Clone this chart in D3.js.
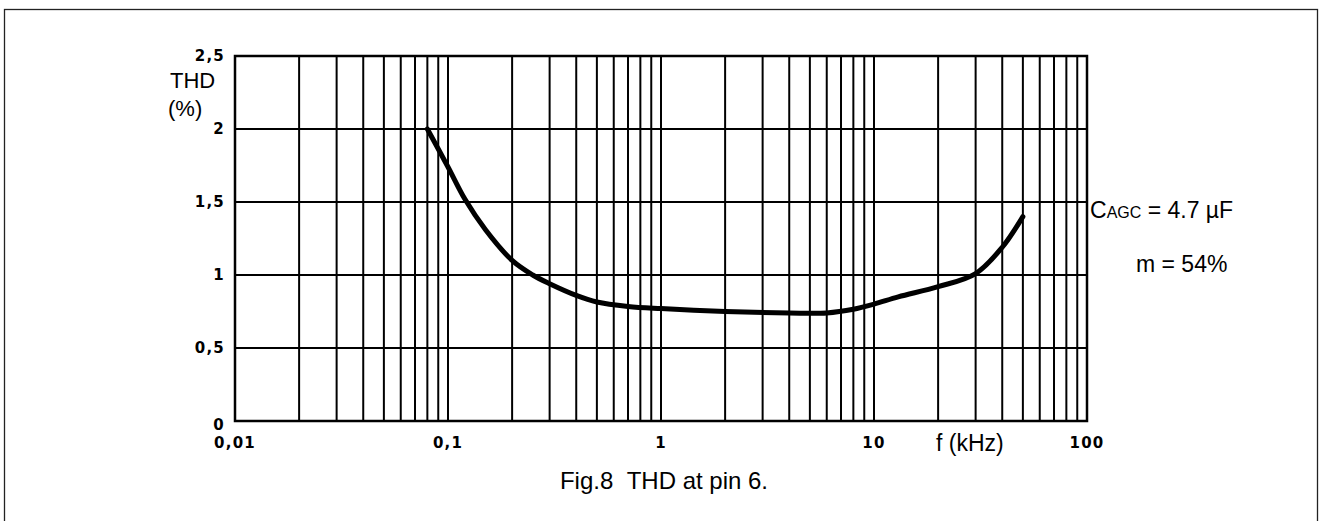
<!DOCTYPE html>
<html>
<head>
<meta charset="utf-8">
<script src="https://cdn.jsdelivr.net/npm/d3@7"></script>
<style>
  html, body { margin: 0; padding: 0; background: #fff; }
  svg { display: block; }
  .tick-label { font-family: "DejaVu Sans", sans-serif; font-weight: bold; font-size: 15px; letter-spacing: 1.2px; fill: #000; }
  .txt { font-family: "Liberation Sans", Arial, sans-serif; fill: #000; white-space: pre; }
</style>
</head>
<body>
<svg id="chart" width="1326" height="521"></svg>
<script>
// curve (f in kHz, THD in %)
const FREQ = [0.08, 0.1, 0.12, 0.15, 0.2, 0.25, 0.3, 0.4, 0.5, 0.7, 1, 2, 4, 6, 8, 10, 13, 20, 30, 40, 50];
const THD = [2.0, 1.74, 1.52, 1.31, 1.1, 1.0, 0.94, 0.86, 0.815, 0.785, 0.77, 0.75, 0.74, 0.74, 0.765, 0.8, 0.85, 0.92, 1.01, 1.19, 1.4];

const X_TICKS = [0.01, 0.1, 1, 10, 100];
const X_TICK_LABELS = ['0,01', '0,1', '1', '10', '100'];
const Y_TICKS = [0, 0.5, 1, 1.5, 2, 2.5];
const Y_TICK_LABELS = ['0', '0,5', '1', '1,5', '2', '2,5'];

const PLOT = { left: 235, right: 1087, top: 56, bottom: 421 };

const svg = d3.select('#chart');

// outer frame
svg.append('rect')
  .attr('x', 4.5)
  .attr('y', 9.5)
  .attr('width', 1313)
  .attr('height', 530)
  .attr('fill', 'none')
  .attr('stroke', '#222')
  .attr('stroke-width', 1.3);

const x = d3.scaleLog().domain([0.01, 100]).range([PLOT.left, PLOT.right]);
const y = d3.scaleLinear().domain([0, 2.5]).range([PLOT.bottom, PLOT.top]);

const grid = svg.append('g');

// vertical grid, 1..9 per decade
grid.selectAll('line.v')
  .data(x.ticks())
  .enter()
  .append('line')
  .attr('class', 'v')
  .attr('x1', d => x(d))
  .attr('x2', d => x(d))
  .attr('y1', PLOT.top)
  .attr('y2', PLOT.bottom)
  .attr('stroke', '#000')
  .attr('stroke-width', 2);

grid.selectAll('line.h')
  .data(Y_TICKS)
  .enter()
  .append('line')
  .attr('class', 'h')
  .attr('x1', PLOT.left)
  .attr('x2', PLOT.right)
  .attr('y1', d => y(d))
  .attr('y2', d => y(d))
  .attr('stroke', '#000')
  .attr('stroke-width', 2);

svg.append('rect')
  .attr('x', PLOT.left)
  .attr('y', PLOT.top)
  .attr('width', PLOT.right - PLOT.left)
  .attr('height', PLOT.bottom - PLOT.top)
  .attr('fill', 'none')
  .attr('stroke', '#000')
  .attr('stroke-width', 2.5);

// tick labels
svg.selectAll('text.xl')
  .data(X_TICKS)
  .enter()
  .append('text')
  .attr('class', 'tick-label xl')
  .attr('x', d => x(d))
  .attr('y', 448)
  .attr('text-anchor', 'middle')
  .text((d, i) => X_TICK_LABELS[i]);

svg.selectAll('text.yl')
  .data(Y_TICKS)
  .enter()
  .append('text')
  .attr('class', 'tick-label yl')
  .attr('x', 225)
  .attr('y', d => y(d) + 5 + (d === 0 ? 4 : 0))
  .attr('text-anchor', 'end')
  .text((d, i) => Y_TICK_LABELS[i]);

// curve
const line = d3.line()
  .x((d, i) => x(FREQ[i]))
  .y(d => y(d))
  .curve(d3.curveCatmullRom.alpha(0.5));

svg.append('path')
  .datum(THD)
  .attr('d', line)
  .attr('fill', 'none')
  .attr('stroke', '#000')
  .attr('stroke-width', 5)
  .attr('stroke-linecap', 'round');

// axis titles and notes
svg.append('text').attr('class', 'txt')
  .attr('x', 170).attr('y', 88)
  .style('font-size', '22px')
  .text('THD');

svg.append('text').attr('class', 'txt')
  .attr('x', 168).attr('y', 116)
  .style('font-size', '22px')
  .text('(%)');

svg.append('text').attr('class', 'txt')
  .attr('x', 936).attr('y', 451)
  .style('font-size', '23px')
  .text('f (kHz)');

const cagc = svg.append('text').attr('class', 'txt')
  .attr('x', 1090).attr('y', 218)
  .style('font-size', '23px');
cagc.append('tspan').text('C');
cagc.append('tspan').style('font-size', '16px').text('AGC');
cagc.append('tspan').text(' = 4.7 µF');

svg.append('text').attr('class', 'txt')
  .attr('x', 1136).attr('y', 272)
  .style('font-size', '23px')
  .text('m = 54%');

svg.append('text').attr('class', 'txt')
  .attr('x', 664).attr('y', 489)
  .attr('text-anchor', 'middle')
  .style('font-size', '24px')
  .text('Fig.8\u00a0\u00a0THD at pin 6.');
</script>
</body>
</html>
